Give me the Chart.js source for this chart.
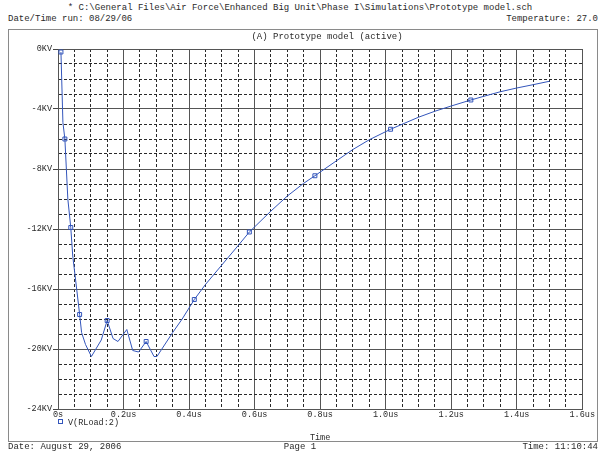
<!DOCTYPE html>
<html>
<head>
<meta charset="utf-8">
<script src="https://cdn.jsdelivr.net/npm/chart.js@4/dist/chart.umd.min.js"></script>
<style>
  body { margin: 0; background: #fff; }
  #page { position: relative; width: 598px; height: 452px; overflow: hidden;
          font-family: 'Liberation Mono', 'Courier New', monospace; font-size: 9px; color: #2a2a2a; }
  .txt { position: absolute; line-height: 10px; white-space: pre; }
  #box { position: absolute; left: 8px; top: 29px; width: 588px; height: 411px; border: 1px solid #8a8a8a; }
  #plot { position: absolute; left: 9px; top: 30px; }
  .mark { display: inline-block; width: 3px; height: 3px; border: 1px solid #3355bb; margin-right: 5px; vertical-align: 1px; }
</style>
</head>
<body>
<div id="page">
  <div class="txt" style="left:0;width:600px;top:3px;text-align:center;">* C:\General Files\Air Force\Enhanced Big Unit\Phase I\Simulations\Prototype model.sch</div>
  <div class="txt" style="left:8px;top:14px;">Date/Time run: 08/29/06</div>
  <div class="txt" style="right:0;top:14px;">Temperature: 27.0</div>
  <div id="box"></div>
  <canvas id="plot" width="587" height="410"></canvas>
  <div class="txt" style="left:327px;top:32px;transform:translateX(-50%);">(A) Prototype model (active)</div>
  <div class="txt" style="left:58px;top:418px;font-size:8.5px;"><span class="mark"></span>V(RLoad:2)</div>
  <div class="txt" style="left:8px;top:442px;">Date: August 29, 2006</div>
  <div class="txt" style="left:300px;top:442px;transform:translateX(-50%);">Page 1</div>
  <div class="txt" style="right:0;top:442px;">Time: 11:10:44</div>
</div>
<script>
// --- values ---
const timeUs = [0.009, 0.015, 0.021, 0.030, 0.039, 0.045, 0.057, 0.066, 0.072, 0.084,
                0.102, 0.132, 0.150, 0.168, 0.183, 0.210, 0.228, 0.246, 0.269, 0.281,
                0.293, 0.302, 0.350, 0.379, 0.416, 0.450, 0.500, 0.550, 0.584, 0.650,
                0.700, 0.750, 0.784, 0.850, 0.900, 0.950, 1.015, 1.100, 1.150, 1.200,
                1.260, 1.300, 1.350, 1.400, 1.450, 1.500];
const voltKV = [-0.2, -4.9, -6.0, -10.0, -11.9, -13.8, -16.0, -17.7, -18.9, -19.7,
                -20.5, -19.4, -18.1, -19.3, -19.5, -18.7, -20.1, -20.2, -19.5, -20.0,
                -20.5, -20.5, -18.9, -18.0, -16.7, -15.7, -14.4, -13.1, -12.2, -10.8,
                -9.8, -8.95, -8.45, -7.45, -6.7, -6.05, -5.35, -4.55, -4.15, -3.8,
                -3.4, -3.15, -2.85, -2.6, -2.38, -2.15];
// PSpice trace symbols
const markerTimes = [0.009, 0.021, 0.039, 0.066, 0.150, 0.269, 0.416, 0.584, 0.784, 1.015, 1.260];
const xTickLabels = ['0s', '0.2us', '0.4us', '0.6us', '0.8us', '1.0us', '1.2us', '1.4us', '1.6us'];
const yTickLabels = ['0KV', '-4KV', '-8KV', '-12KV', '-16KV', '-20KV', '-24KV'];

const traceColor = '#3355bb';
const font = { family: "'Liberation Mono', 'Courier New', monospace", size: 8.5 };

const isMajorX = v => Math.round(v * 100) % 20 === 0;
const isMajorY = v => Math.round(v) % 4 === 0;

// solid lines on labelled ticks, dashed on the rest
function gridOpts(isMajor) {
    return {
        color: ctx => ctx.tick && !isMajor(ctx.tick.value) ? '#2a2a2a' : '#555',
        lineWidth: 1,
        tickColor: ctx => ctx.tick && isMajor(ctx.tick.value) ? '#444' : 'rgba(0,0,0,0)',
    };
}

new Chart(document.getElementById('plot'), {
    type: 'line',
    data: {
        datasets: [{
            label: 'V(RLoad:2)',
            data: timeUs.map((t, i) => ({ x: t, y: voltKV[i] })),
            borderColor: traceColor,
            borderWidth: 1,
            tension: 0,
            pointStyle: 'rect',
            pointBackgroundColor: 'rgba(255,255,255,0)',
            pointBorderColor: traceColor,
            pointBorderWidth: 1,
            pointRadius: ctx => markerTimes.includes(timeUs[ctx.dataIndex]) ? 2.8 : 0,
            pointHoverRadius: 0,
        }]
    },
    options: {
        responsive: false,
        animation: false,
        devicePixelRatio: 1,
        layout: { padding: { top: 19, right: 2, left: 0, bottom: 0 }, autoPadding: false },
        plugins: { legend: { display: false }, tooltip: { enabled: false }, title: { display: false } },
        events: [],
        scales: {
            x: {
                type: 'linear',
                min: 0, max: 1.6,
                afterFit: s => { s.height = 31; },
                grid: { ...gridOpts(isMajorX), drawTicks: false },
                border: { color: '#555', dash: ctx => ctx.tick && !isMajorX(ctx.tick.value) ? [3, 2] : [] },
                ticks: {
                    stepSize: 0.05, autoSkip: false, maxRotation: 0, padding: 1,
                    color: '#2a2a2a', font,
                    callback: v => isMajorX(v) ? xTickLabels[Math.round(v * 5)] : ''
                },
                title: { display: true, text: 'Time', color: '#2a2a2a', font: { ...font, lineHeight: 1 }, padding: { top: 0, bottom: -2 } }
            },
            y: {
                min: -24, max: 0,
                afterFit: s => { s.width = 49; },
                grid: { ...gridOpts(isMajorY), drawTicks: true, tickLength: 5 },
                border: { color: '#555', dash: ctx => ctx.tick && !isMajorY(ctx.tick.value) ? [3, 2] : [] },
                ticks: {
                    stepSize: 1, autoSkip: false, padding: 1,
                    color: '#2a2a2a', font,
                    callback: v => isMajorY(v) ? yTickLabels[Math.round(-v / 4)] : ''
                }
            }
        }
    }
});
</script>
</body>
</html>
